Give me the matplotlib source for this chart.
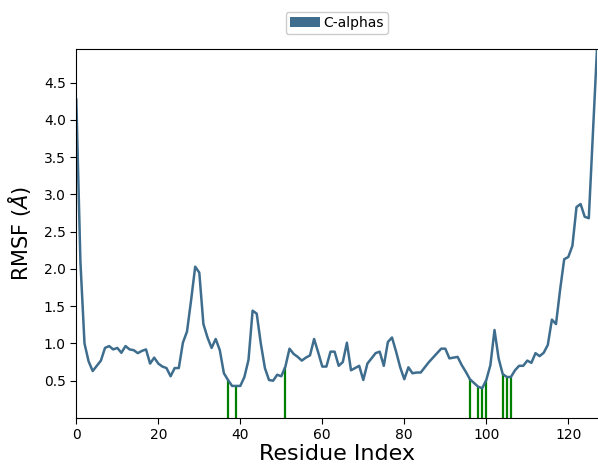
import numpy as np
import matplotlib.pyplot as plt
from matplotlib.patches import Patch

# RMSF per residue
rmsf = [4.27, 2.10, 1.00, 0.76, 0.63, 0.70, 0.77, 0.94, 0.965, 0.92,
        0.94, 0.875, 0.965, 0.92, 0.91, 0.87, 0.90, 0.92, 0.73, 0.81,
        0.73, 0.69, 0.67, 0.56, 0.67, 0.67, 1.01, 1.16, 1.58, 2.03,
        1.95, 1.26, 1.08, 0.94, 1.06, 0.91, 0.60, 0.51, 0.43, 0.43,
        0.43, 0.55, 0.78, 1.44, 1.40, 1.00, 0.67, 0.51, 0.50, 0.58,
        0.56, 0.69, 0.93, 0.86, 0.82, 0.77, 0.81, 0.84, 1.06, 0.88,
        0.69, 0.69, 0.89, 0.89, 0.70, 0.75, 1.01, 0.64, 0.67, 0.70,
        0.51, 0.73, 0.80, 0.87, 0.89, 0.70, 1.02, 1.08, 0.89, 0.68,
        0.52, 0.68, 0.60, 0.61, 0.61, 0.68, 0.75, 0.81, 0.87, 0.93,
        0.93, 0.80, 0.81, 0.82, 0.71, 0.62, 0.52, 0.47, 0.42, 0.40,
        0.51, 0.71, 1.18, 0.80, 0.59, 0.55, 0.55, 0.64, 0.70, 0.70,
        0.77, 0.74, 0.87, 0.83, 0.875, 0.98, 1.32, 1.26, 1.72, 2.13,
        2.16, 2.31, 2.83, 2.87, 2.70, 2.68, 3.80, 4.95]
residues = np.arange(len(rmsf))

# highlighted residues (green sticks)
marked = [37, 39, 51, 96, 98, 99, 100, 104, 105, 106]

line_color = '#3e6d8e'

fig = plt.figure(figsize=(5.98, 4.66), dpi=100)
ax = fig.add_axes([76.3/598, 1 - 418/466, (597 - 76.3)/598, (418 - 49)/466])

rmsf_arr = np.array(rmsf)
ax.vlines(marked, 0, rmsf_arr[marked], colors='green', linewidth=1.6, zorder=1)
ax.plot(residues, rmsf_arr, color=line_color, linewidth=1.8, zorder=2)

ax.set_xlim(0, residues[-1])
ax.set_ylim(0, rmsf_arr.max())
ax.set_xticks([0, 20, 40, 60, 80, 100, 120])
ax.set_yticks([0.5, 1.0, 1.5, 2.0, 2.5, 3.0, 3.5, 4.0, 4.5])
ax.tick_params(labelsize=10, length=4)
ax.spines['right'].set_visible(False)

ax.set_xlabel('Residue Index', fontsize=16, labelpad=1)
ax.set_ylabel(r'RMSF ($\AA$)', fontsize=15, labelpad=8)

ax.legend(handles=[Patch(facecolor=line_color, label='C-alphas')],
          loc='lower center', bbox_to_anchor=(0.5, 1.04), fontsize=10,
          handlelength=2.2, handletextpad=0.2, borderpad=0.3,
          borderaxespad=0, framealpha=1)

fig.savefig('out.png', dpi=100)
